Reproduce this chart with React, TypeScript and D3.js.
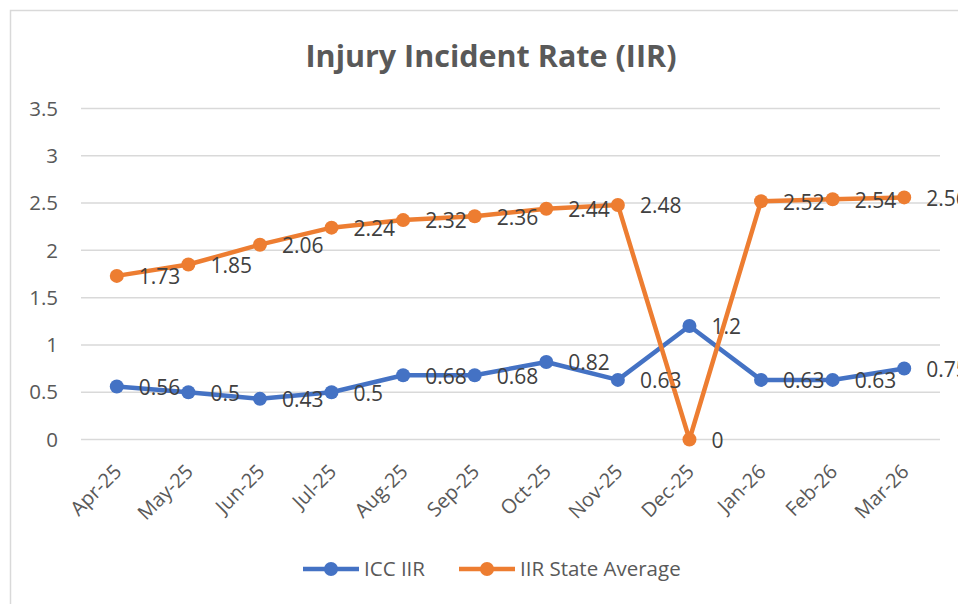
import React from "react";
import * as d3 from "d3";

const categories = ["Apr-25","May-25","Jun-25","Jul-25","Aug-25","Sep-25","Oct-25","Nov-25","Dec-25","Jan-26","Feb-26","Mar-26"];
const iccIIR = [0.56,0.5,0.43,0.5,0.68,0.68,0.82,0.63,1.2,0.63,0.63,0.75];
const stateAvg = [1.73,1.85,2.06,2.24,2.32,2.36,2.44,2.48,0,2.52,2.54,2.56];
const yTicks = [0,0.5,1,1.5,2,2.5,3,3.5];
const seriesNames = ["ICC IIR","IIR State Average"];

const W = 958, H = 604;
const FONT = "'Open Sans', 'Segoe UI', sans-serif";
const BLUE = "#4472C4", ORANGE = "#ED7D31";

export default function App() {
  const x = d3.scaleBand<string>().domain(categories).range([81, 940]).padding(0);
  const y = d3.scaleLinear().domain([0, 3.5]).range([439.5, 108.5]);
  const cx = (c: string) => (x(c) as number) + x.bandwidth() / 2;
  const line = d3.line<number>().x((_, i) => cx(categories[i])).y(d => y(d));
  const series = [
    { name: seriesNames[0], data: iccIIR, color: BLUE },
    { name: seriesNames[1], data: stateAvg, color: ORANGE },
  ];
  const legendX = [303, 459];
  return (
    <svg width={W} height={H} style={{ position: "fixed", left: 0, top: 0, background: "#fff" }} fontFamily={FONT}>
      <rect x={0} y={0} width={W} height={H} fill="#fff" />
      <path d={`M10.5,${H} V10.5 H${W}`} fill="none" stroke="#d9d9d9" strokeWidth={1.5} />
      <text x={491} y={67} textAnchor="middle" fontSize={30.5} fontWeight={700} fill="#595959">Injury Incident Rate (IIR)</text>
      {yTicks.map(t => (
        <g key={t}>
          <line x1={81} x2={940} y1={y(t)} y2={y(t)} stroke="#d9d9d9" strokeWidth={1.5} />
          <text x={58} y={y(t)} dy="0.35em" textAnchor="end" fontSize={20.5} fill="#595959">{t}</text>
        </g>
      ))}
      {categories.map(c => (
        <text key={c} transform={`translate(${cx(c) + 1},${468}) rotate(-45)`} dy="0.35em" textAnchor="end" fontSize={20} fill="#595959">{c}</text>
      ))}
      {series.map(s => (
        <g key={s.name}>
          <path d={line(s.data) || ""} fill="none" stroke={s.color} strokeWidth={4.5} strokeLinejoin="round" />
          {s.data.map((v, i) => (
            <circle key={i} cx={cx(categories[i])} cy={y(v)} r={7} fill={s.color} />
          ))}
        </g>
      ))}
      {series.map(s => (
        <g key={s.name + "l"}>
          {s.data.map((v, i) => (
            <text key={i} x={cx(categories[i]) + 22} y={y(v) + 1} dy="0.35em" fontSize={21} fill="#404040">{String(v)}</text>
          ))}
        </g>
      ))}
      {series.map((s, k) => (
        <g key={s.name + "g"}>
          <line x1={legendX[k]} x2={legendX[k] + 56} y1={569} y2={569} stroke={s.color} strokeWidth={4.5} />
          <circle cx={legendX[k] + 28} cy={569} r={7} fill={s.color} />
          <text x={legendX[k] + 61} y={569} dy="0.35em" fontSize={20.5} fill="#595959">{s.name}</text>
        </g>
      ))}
    </svg>
  );
}
